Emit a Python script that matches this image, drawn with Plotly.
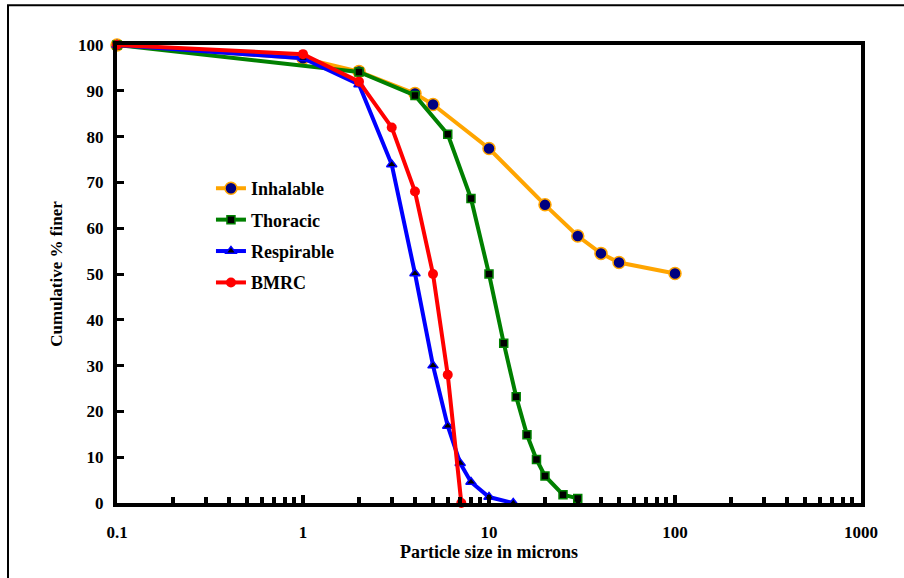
import plotly.graph_objects as go

# Particle size (microns) and cumulative % finer for each sampling convention
inhalable_size = [0.1, 1, 2, 4, 5, 10, 20, 30, 40, 50, 100]
inhalable_pct = [100, 97.1, 94.2, 89.4, 87.0, 77.4, 65.1, 58.3, 54.5, 52.5, 50.1]

thoracic_size = [0.1, 2, 4, 6, 8, 10, 12, 14, 16, 18, 20, 25, 30]
thoracic_pct = [100, 94.1, 89.0, 80.5, 66.5, 50.0, 34.9, 23.2, 14.9, 9.5, 5.9, 1.8, 1.0]

respirable_size = [0.1, 1, 2, 3, 4, 5, 6, 7, 8, 10, 13.5]
respirable_pct = [100, 97.1, 91.4, 73.9, 50.1, 30.0, 16.8, 8.7, 4.6, 1.3, 0.0]

bmrc_size = [0.1, 1, 2, 3, 4, 5, 6, 7.1]
bmrc_pct = [100, 98, 92, 82, 68, 50, 28, 0]

x_tick_vals = [0.1, 1, 10, 100, 1000]
x_tick_text = ["0.1", "1", "10", "100", "1000"]
y_tick_vals = [0, 10, 20, 30, 40, 50, 60, 70, 80, 90, 100]

FAMILY = "Liberation Serif"
FONT = dict(family=FAMILY, size=17, color="black", weight="bold")
XTITLE_FONT = dict(family=FAMILY, size=18, color="black", weight="bold")
YTITLE_FONT = dict(family=FAMILY, size=17, color="black", weight="bold")
LEGEND_FONT = dict(family=FAMILY, size=18, color="black", weight="bold")

series = [
    ("Inhalable", inhalable_size, inhalable_pct, "#FFA500",
     dict(symbol="circle", size=12, color="#000080",
          line=dict(color="#FFA500", width=1.5))),
    ("Thoracic", thoracic_size, thoracic_pct, "#008000",
     dict(symbol="square", size=8, color="black",
          line=dict(color="#008000", width=1.5))),
    ("Respirable", respirable_size, respirable_pct, "#0000FF",
     dict(symbol="triangle-up", size=9, color="black",
          line=dict(color="#0000FF", width=1.5))),
    ("BMRC", bmrc_size, bmrc_pct, "#FF0000",
     dict(symbol="circle", size=10, color="#FF0000",
          line=dict(color="#FF0000", width=0))),
]

fig = go.Figure()
for name, xs, ys, col, mk in series:
    fig.add_trace(go.Scatter(
        x=xs, y=ys, name=name, mode="lines+markers",
        line=dict(color=col, width=4), marker=mk,
        legendgroup=name, cliponaxis=False,
    ))

fig.update_xaxes(
    type="log", range=[-1, 3],
    tickvals=x_tick_vals, ticktext=x_tick_text,
    ticks="inside", ticklen=8, tickwidth=4, tickcolor="black",
    minor=dict(ticks="inside", ticklen=6, tickwidth=4, tickcolor="black",
               dtick="D1", showgrid=False),
    showline=True, linewidth=4, linecolor="black", mirror=True,
    showgrid=False, zeroline=False,
    tickfont=FONT, ticklabelstandoff=11,
    title=dict(text="Particle size in microns", font=XTITLE_FONT, standoff=3),
)
fig.update_yaxes(
    range=[0, 100], tickvals=y_tick_vals,
    ticks="inside", ticklen=7, tickwidth=3, tickcolor="black",
    showline=True, linewidth=4, linecolor="black", mirror=True,
    showgrid=False, zeroline=False,
    tickfont=FONT, ticklabelstandoff=6,
    title=dict(text="Cumulative % finer", font=YTITLE_FONT, standoff=12),
)

# thin frame around the whole chart
fig.add_shape(type="rect", xref="paper", yref="paper",
              x0=-0.1465, x1=1.08, y0=-0.2, y1=1.087,
              line=dict(color="black", width=2), layer="below")

fig.update_layout(
    width=904, height=578,
    margin=dict(l=117, r=43, t=45, b=75),
    paper_bgcolor="white", plot_bgcolor="white",
    font=FONT,
    showlegend=True,
    legend=dict(x=0.1263, y=0.727, xanchor="left", yanchor="top",
                bgcolor="rgba(0,0,0,0)", font=LEGEND_FONT, tracegroupgap=5,
                itemwidth=30),
)

fig.write_html("out.html")
